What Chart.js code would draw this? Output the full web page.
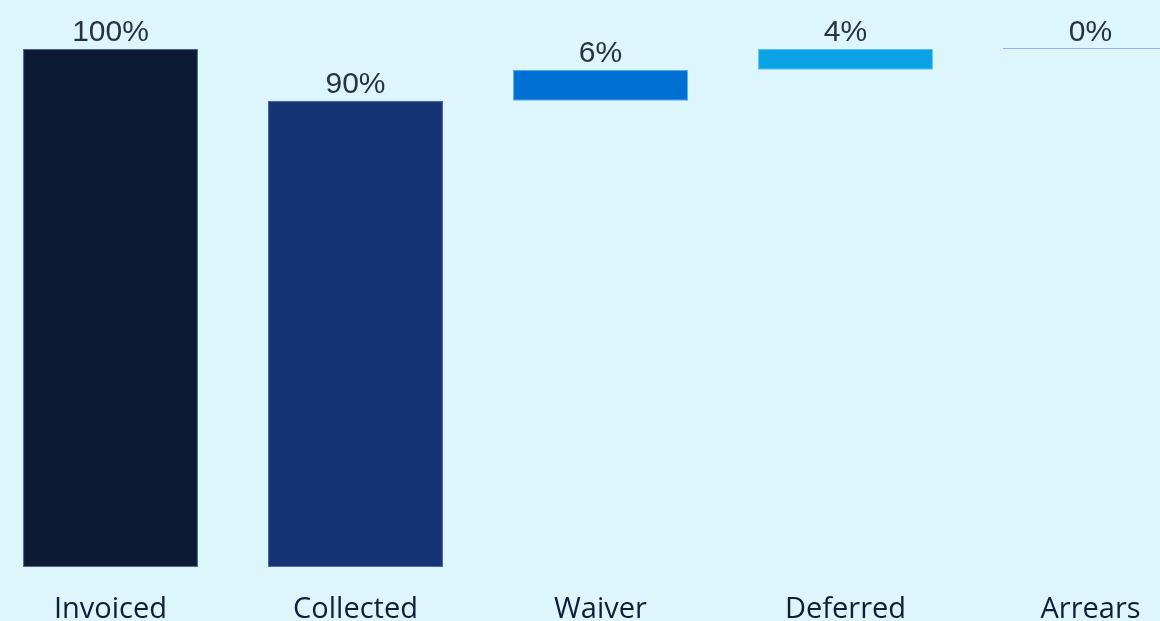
<!DOCTYPE html>
<html>
<head>
<meta charset="utf-8">
<script src="https://cdn.jsdelivr.net/npm/chart.js@4.4.1/dist/chart.umd.min.js"></script>
<style>
  html, body { margin: 0; padding: 0; background: #ddf6fc; overflow: hidden; }
  body { width: 1160px; height: 621px; position: relative; }
  #wrap { position: absolute; left: -12px; top: 0; width: 1225px; height: 652px; }
</style>
</head>
<body>
<div id="wrap"><canvas id="waterfall"></canvas></div>
<script>
// ===============================
// DATA
// ===============================
const categories = ["Invoiced", "Collected", "Waiver", "Deferred", "Arrears"];
const barStart = [0, 0, 90, 96, 100];
const barEnd = [100, 90, 96, 100, 100];
const shareLabels = [100, 90, 6, 4, 0];

const fillColors = ["#0d1a33", "#163373", "#006fd3", "#0aa2e4", "#8bb9ef"];
const edgeColors = ["#4d6585", "#3f5c92", "#5aa6ea", "#5cc2ee", "#8bb9ef"];

// ===============================
// VALUE LABELS ABOVE BARS
// (zero-height bars get a thin line at their level)
// ===============================
const valueLabels = {
  id: "valueLabels",
  afterDatasetsDraw(chart) {
    const ctx = chart.ctx;
    const meta = chart.getDatasetMeta(0);
    ctx.save();
    meta.data.forEach((bar, i) => {
      if (barStart[i] === barEnd[i]) {
        const y = Math.round(bar.y) - 0.5;
        ctx.strokeStyle = fillColors[i];
        ctx.lineWidth = 1;
        ctx.beginPath();
        ctx.moveTo(bar.x - bar.width / 2, y);
        ctx.lineTo(bar.x + bar.width / 2, y);
        ctx.stroke();
      }
    });
    ctx.font = "30px 'Liberation Sans', Arial, sans-serif";
    ctx.fillStyle = "#283244";
    ctx.textAlign = "center";
    ctx.textBaseline = "bottom";
    meta.data.forEach((bar, i) => {
      const top = Math.min(bar.y, bar.base);
      ctx.fillText(shareLabels[i] + "%", bar.x, top - 1);
    });
    ctx.restore();
  },
};

// ===============================
// CHART
// ===============================
new Chart(document.getElementById("waterfall"), {
  type: "bar",
  data: {
    labels: categories,
    datasets: [
      {
        data: categories.map((_, i) => [barStart[i], barEnd[i]]),
        backgroundColor: fillColors,
        borderColor: edgeColors,
        borderWidth: 1,
        borderSkipped: false,
        barPercentage: 0.714,
        categoryPercentage: 1,
      },
    ],
  },
  options: {
    responsive: true,
    maintainAspectRatio: false,
    animation: false,
    layout: { padding: { top: 49, bottom: 0, left: 0, right: 0 } },
    plugins: {
      legend: { display: false },
      tooltip: { enabled: false },
    },
    scales: {
      x: {
        offset: true,
        grid: { display: false, drawTicks: false },
        border: { display: false },
        ticks: {
          padding: 25,
          color: "#0f1d38",
          font: { family: "'Open Sans', sans-serif", size: 29 },
        },
      },
      y: {
        display: false,
        min: 0,
        max: 100,
      },
    },
  },
  plugins: [valueLabels],
});
</script>
</body>
</html>
